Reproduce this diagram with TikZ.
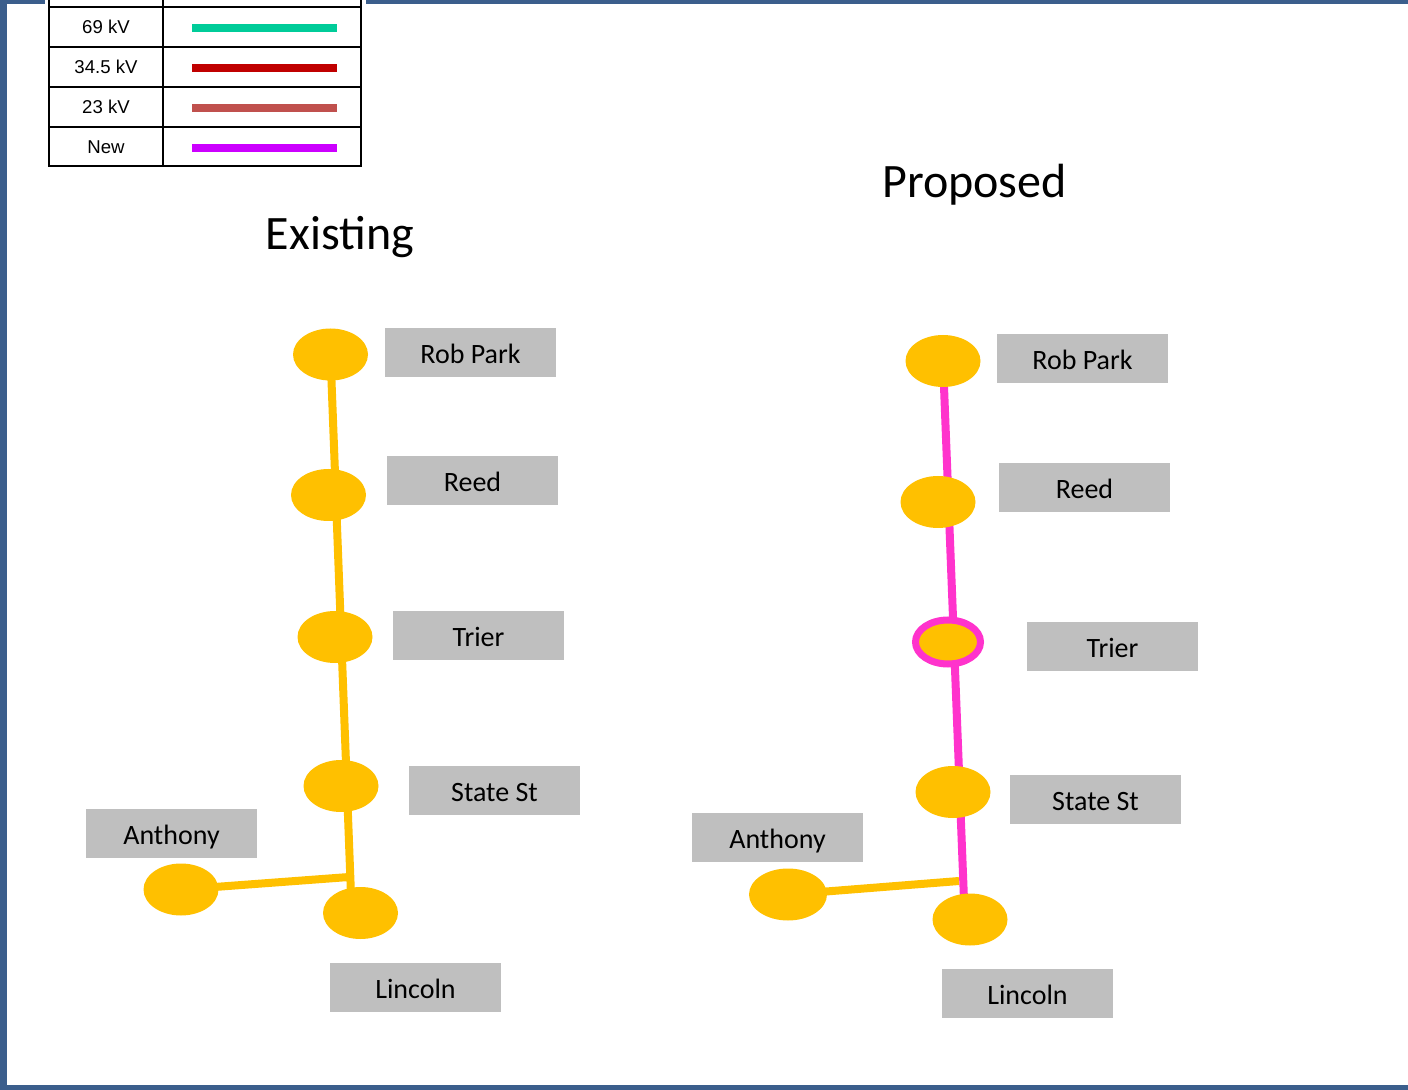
\documentclass[tikz,border=0pt]{standalone}
\usepackage{fontspec}
\setmainfont{Carlito}
\newfontfamily\legendfont{Liberation Sans}
\usetikzlibrary{shapes.geometric, backgrounds}

\definecolor{busyellow}{RGB}{255,192,0}
\definecolor{labelgray}{RGB}{191,191,191}
\definecolor{newpink}{RGB}{255,51,204}
\definecolor{frameblue}{RGB}{59,94,140}
\definecolor{kvsixtynine}{RGB}{0,204,153}
\definecolor{kvthirtyfour}{RGB}{192,0,0}
\definecolor{kvtwentythree}{RGB}{192,80,77}
\definecolor{kvnew}{RGB}{204,0,255}

\tikzset{
  bus/.style = {ellipse, fill = busyellow, minimum width = 37.5pt, minimum height = 26pt, inner sep = 0pt},
  newbus/.style = {bus, draw = newpink, line width = 3.5pt, minimum width = 32.5pt, minimum height = 22pt},
  buslabel/.style = {fill = labelgray, minimum width = 85.5pt, minimum height = 24.5pt, inner sep = 0pt,
    font = \fontsize{14}{16}\selectfont, text height = 11.5pt, text depth = 0.5pt},
  feeder/.style = {draw = busyellow, line width = 4pt},
  newfeeder/.style = {draw = newpink, line width = 4pt},
  title/.style = {anchor = base, inner sep = 0pt, font = \fontsize{24}{28}\selectfont},
  legendtext/.style = {inner sep = 0pt, text height = 6.7pt, text depth = 0pt,
    font = \legendfont\fontsize{9.3}{11}\selectfont}
}

\begin{document}
\begin{tikzpicture}[x = 0.5pt, y = -0.5pt]
            \useasboundingbox (0,0) rectangle (1408,1090);

            % Frame
            \fill [frameblue] (0,0) rectangle (7,1090);
            \fill [frameblue] (0,0) rectangle (1408,4);
            \fill [frameblue] (0,1085) rectangle (1408,1090);

            % Legend
            \fill [white] (45,-2) rectangle (366,170);
            \draw [line width = 1pt] (48.7,-10) -- (48.7,165.7) -- (361,165.7) -- (361,-10);
            \draw [line width = 1pt] (163.3,-10) -- (163.3,165.7);
            \foreach \y in {6.7, 46.7, 86.7, 126.7}
                \draw [line width = 1pt] (48.7,\y) -- (361,\y);
            \foreach \kv/\col [count = \i] in {69 kV/kvsixtynine, 34.5 kV/kvthirtyfour, 23 kV/kvtwentythree, New/kvnew} {
                \pgfmathsetmacro\rowy{26.7 + 40*(\i - 1)}
                \node [legendtext] (Legend\i) at (106,\rowy) {\kv};
                \draw [\col, line width = 4pt] (192,\rowy + 1.3) -- (336.7,\rowy + 1.3);
            }

            % Titles
            \node [title] (ExTitle) at (340,250) {Existing};
            \node [title] (PrTitle) at (974.5,198) {Proposed};

            % Existing buses
            \node [bus] (ExRobPark) at (330.5,354.5) {};
            \node [bus] (ExReed) at (328.5,495) {};
            \node [bus] (ExTrier) at (335,637) {};
            \node [bus] (ExStateSt) at (341,786) {};
            \node [bus] (ExAnthony) at (181,889.5) {};
            \node [bus] (ExLincoln) at (360.5,913) {};

            \node [buslabel] (ExRobParkLabel) at (470.5,352.5) {Rob Park};
            \node [buslabel] (ExReedLabel) at (472.5,481) {Reed};
            \node [buslabel] (ExTrierLabel) at (478.5,635.5) {Trier};
            \node [buslabel] (ExStateStLabel) at (494.5,790) {State St};
            \node [buslabel] (ExAnthonyLabel) at (171.5,833) {Anthony};
            \node [buslabel] (ExLincolnLabel) at (415.5,987) {Lincoln};

            \coordinate (ExJoint) at (349,877);
            \coordinate (ExEnd) at (351,895);

            % Proposed buses
            \node [bus] (PrRobPark) at (943,361) {};
            \node [bus] (PrReed) at (938,502) {};
            \node [newbus] (PrTrier) at (948,642) {};
            \node [bus] (PrStateSt) at (953,792) {};
            \node [bus, minimum width = 39pt] (PrAnthony) at (788,894.5) {};
            \node [bus] (PrLincoln) at (970,919.5) {};

            \node [buslabel] (PrRobParkLabel) at (1082.5,358.5) {Rob Park};
            \node [buslabel] (PrReedLabel) at (1084.5,488) {Reed};
            \node [buslabel] (PrTrierLabel) at (1112.5,646.5) {Trier};
            \node [buslabel] (PrStateStLabel) at (1095.5,799) {State St};
            \node [buslabel] (PrAnthonyLabel) at (777.5,837) {Anthony};
            \node [buslabel] (PrLincolnLabel) at (1027.5,993) {Lincoln};

            \coordinate (PrJoint) at (959,881);
            \coordinate (PrEnd) at (964,900);

            % Lines behind the buses
            \begin{pgfonlayer}{background}
                \draw [feeder] (ExRobPark.center) -- (ExEnd);
                \draw [feeder] (ExAnthony.center) -- (ExJoint);
                \draw [feeder] (PrAnthony.center) -- (PrJoint);
                \draw [newfeeder] (PrRobPark.center) -- (PrEnd);
            \end{pgfonlayer}

        \end{tikzpicture}
\end{document}
